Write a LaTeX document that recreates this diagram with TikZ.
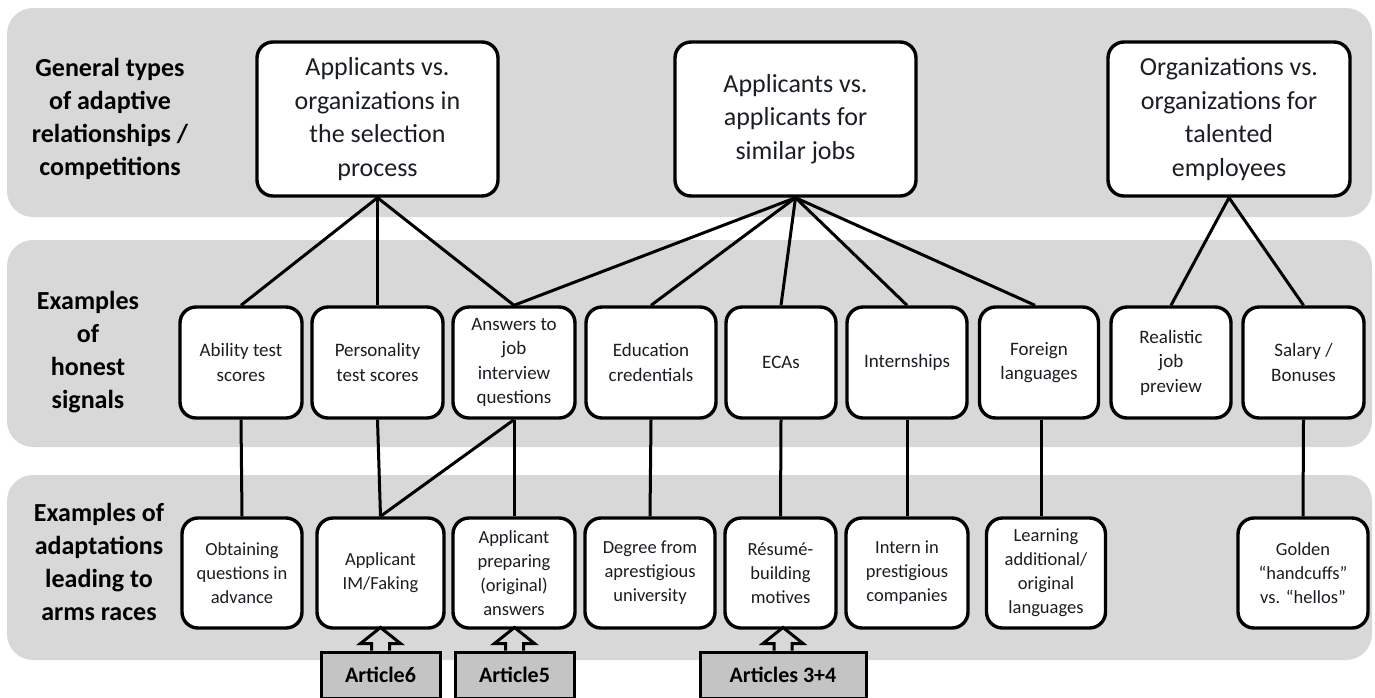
\documentclass[tikz,border=0pt]{standalone}
\usepackage{fontspec}
\setmainfont{Carlito}
\usetikzlibrary{calc}
\definecolor{band}{HTML}{D8D8D8}
\definecolor{artfill}{HTML}{C4C4C4}
\definecolor{txt}{HTML}{1A1E22}
\begin{document}
\begin{tikzpicture}[x=1pt,y=-1pt,
 box/.style={draw=black, line width=3.4pt, fill=white, rounded corners=16pt, align=center, inner sep=2pt, text=txt},
 topbox/.style={box, minimum height=154pt, font=\fontsize{26}{33.5}\selectfont},
 midbox/.style={box, minimum height=111pt, font=\fontsize{19}{24.5}\selectfont},
 lowbox/.style={box, minimum height=110pt, font=\fontsize{18.5}{24}\selectfont},
 artbox/.style={draw=black, line width=3pt, fill=artfill, minimum height=46pt, font=\bfseries\fontsize{22}{26}\selectfont},
 lab/.style={align=center, font=\bfseries\fontsize{26}{33}\selectfont, text=black},
 conn/.style={line width=3pt, black},
 arr/.style={draw=black, line width=3pt, fill=band, line join=miter},
 bandbg/.style={fill=band, rounded corners=26pt}]
\useasboundingbox (0,0) rectangle (1375,697);
\fill[white] (0,0) rectangle (1375,697);
% bands
\fill[bandbg] (7,8) rectangle (1372,217);
\fill[bandbg] (7,240) rectangle (1372,447);
\fill[bandbg] (7,475) rectangle (1372,660);
% row labels
\node[lab] (L1) at (110,119) {General types\\of adaptive\\relationships /\\competitions};
\node[lab] (L2) at (88,352) {Examples\\of\\honest\\signals};
\node[lab] (L3) at (99,562) {Examples of\\adaptations\\leading to\\arms races};
% top boxes
\node[topbox, minimum width=241pt] (A) at (377.5,119) {Applicants vs.\\organizations in\\the selection\\process};
\node[topbox, minimum width=241pt] (B) at (795.5,119) {Applicants vs.\\applicants for\\similar jobs};
\node[topbox, minimum width=242pt] (C) at (1229,119) {Organizations vs.\\organizations for\\talented\\employees};
% middle boxes
\node[midbox, minimum width=122pt] (abil) at (241,362.5) {Ability test\\scores};
\node[midbox, minimum width=131pt] (pers) at (377.5,362.5) {Personality\\test scores};
\node[midbox, minimum width=122pt] (answ) at (514,362.5) {Answers to\\job\\interview\\questions};
\node[midbox, minimum width=130pt] (educ) at (651,362.5) {Education\\credentials};
\node[midbox, minimum width=110pt] (ecas) at (781,362.5) {ECAs};
\node[midbox, minimum width=120pt] (intsh) at (907,362.5) {Internships};
\node[midbox, minimum width=119pt] (forl) at (1039,362.5) {Foreign\\languages};
\node[midbox, minimum width=120pt] (real) at (1171,362.5) {Realistic\\job\\preview};
\node[midbox, minimum width=121pt] (sal) at (1303.5,362.5) {Salary /\\Bonuses};
% bottom boxes
\node[lowbox, minimum width=120pt] (obt) at (242,573) {Obtaining\\questions in\\advance};
\node[lowbox, minimum width=127pt] (imf) at (380.5,573) {Applicant\\IM/Faking};
\node[lowbox, minimum width=122pt] (prep) at (514,573) {Applicant\\preparing\\(original)\\answers};
\node[lowbox, minimum width=130pt] (deg) at (650,573) {Degree from\\aprestigious\\university};
\node[lowbox, minimum width=111pt] (res) at (780.5,573) {Résumé-\\building\\motives};
\node[lowbox, minimum width=122pt] (intn) at (907,573) {Intern in\\prestigious\\companies};
\node[lowbox, minimum width=119pt] (lrn) at (1046,573) {Learning\\additional/\\original\\languages};
\node[lowbox, minimum width=130pt] (gold) at (1303,573) {Golden\\“handcuffs”\\vs. “hellos”};
% connectors top -> middle
\draw[conn] (A.south) -- (abil.north);
\draw[conn] (A.south) -- (pers.north);
\draw[conn] (A.south) -- (answ.north);
\draw[conn] (B.south) -- (answ.north);
\draw[conn] (B.south) -- (educ.north);
\draw[conn] (B.south) -- (ecas.north);
\draw[conn] (B.south) -- (intsh.north);
\draw[conn] (B.south) -- ($(forl.north)+(-4,0)$);
\draw[conn] (C.south) -- (real.north);
\draw[conn] (C.south) -- (sal.north);
% connectors middle -> bottom
\draw[conn] (abil.south) -- (obt.north);
\draw[conn] (pers.south) -- (imf.north);
\draw[conn] (answ.south) -- (imf.north);
\draw[conn] (answ.south) -- (prep.north);
\draw[conn] (educ.south) -- (deg.north);
\draw[conn] (ecas.south) -- (res.north);
\draw[conn] (intsh.south) -- (intn.north);
\draw[conn] ($(forl.south)+(2,0)$) -- ($(forl.south |- lrn.north)+(2,0)$);
\draw[conn] (sal.south) -- (gold.north);
% article boxes
\node[artbox, minimum width=119pt] (art6) at (380.5,675) {Article6};
\node[artbox, minimum width=119pt] (art5) at (514.5,675) {Article5};
\node[artbox, minimum width=166pt] (art34) at (783,675) {Articles 3+4};
% block arrows
\foreach \n in {art6,art5,art34}{
  \draw[arr] ($(\n.north)+(-9,0)$) -- ++(0,-7) -- ++(-11,0) -- ++(20,-16) -- ++(20,16) -- ++(-11,0) -- ++(0,7);
}
\end{tikzpicture}
\end{document}
